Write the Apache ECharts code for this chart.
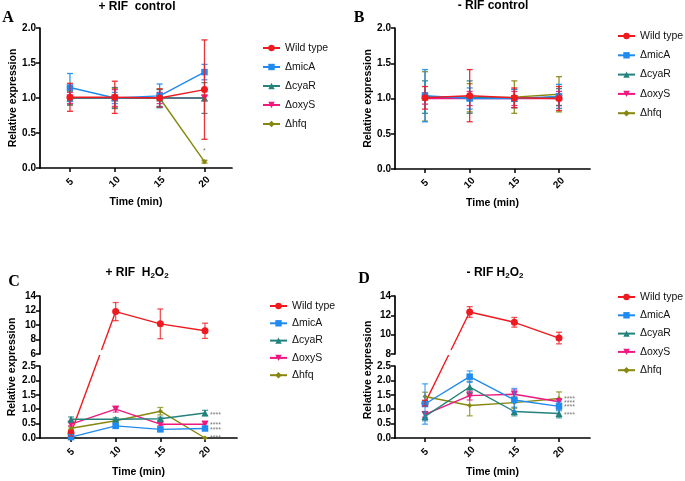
<!DOCTYPE html>
<html><head><meta charset="utf-8">
<script src="https://cdn.jsdelivr.net/npm/echarts@6/dist/echarts.min.js"></script>
<style>html,body{margin:0;padding:0;background:#fff}#c{width:685px;height:481px}</style>
</head><body><div id="c"></div>
<script>
const timePoints = [5, 10, 15, 20];
const seriesNames = ['Wild type', 'ΔmicA', 'ΔcyaR', 'ΔoxyS', 'Δhfq'];
const tickLabels = [5, 10, 15, 20];

// Panel A: + RIF control
const aWild = [1.01, 1.01, 1.00, 1.12];
const aWildErr = [0.20, 0.23, 0.13, 0.71];
const aMicA = [1.15, 1.00, 1.03, 1.37];
const aMicAErr = [0.20, 0.08, 0.17, 0.11];
const aCyaR = [1.00, 1.00, 1.00, 1.00];
const aCyaRErr = [0.10, 0.15, 0.12, 0.22];
const aOxyS = [1.00, 1.00, 1.00, 1.00];
const aOxySErr = [0.08, 0.12, 0.08, 0.04];
const aHfq = [1.00, 1.00, 1.00, 0.09];
const aHfqErr = [0.10, 0.14, 0.13, 0.02];
const aStars = [0.16];

// Panel B: - RIF control
const bWild = [1.01, 1.04, 1.01, 1.00];
const bWildErr = [0.16, 0.37, 0.14, 0.17];
const bMicA = [1.04, 1.00, 1.00, 1.03];
const bMicAErr = [0.37, 0.15, 0.13, 0.17];
const bCyaR = [1.02, 1.02, 1.00, 1.02];
const bCyaRErr = [0.23, 0.23, 0.13, 0.12];
const bOxyS = [1.00, 1.00, 1.00, 1.00];
const bOxySErr = [0.08, 0.10, 0.10, 0.10];
const bHfq = [1.03, 1.01, 1.02, 1.06];
const bHfqErr = [0.35, 0.20, 0.23, 0.25];

// Panel C: + RIF H2O2
const cWild = [0.17, 11.85, 10.16, 9.20];
const cWildErr = [0.10, 1.25, 2.05, 1.05];
const cMicA = [0.03, 0.42, 0.30, 0.33];
const cMicAErr = [0.03, 0.07, 0.06, 0.06];
const cCyaR = [0.65, 0.65, 0.67, 0.87];
const cCyaRErr = [0.08, 0.06, 0.05, 0.09];
const cOxyS = [0.48, 1.00, 0.48, 0.48];
const cOxySErr = [0.05, 0.10, 0.05, 0.10];
const cHfq = [0.34, 0.60, 0.93, 0.00];
const cHfqErr = [0.05, 0.05, 0.13, 0.02];
const cStars = [0.85, 0.52, 0.33, 0.06];

// Panel D: - RIF H2O2
const dWild = [1.21, 12.35, 11.28, 9.65];
const dWildErr = [0.10, 0.55, 0.50, 0.60];
const dMicA = [1.18, 2.13, 1.32, 1.10];
const dMicAErr = [0.70, 0.20, 0.40, 0.15];
const dCyaR = [0.75, 1.77, 0.92, 0.85];
const dCyaRErr = [0.15, 0.20, 0.15, 0.15];
const dOxyS = [0.82, 1.47, 1.52, 1.26];
const dOxySErr = [0.10, 0.15, 0.15, 0.10];
const dHfq = [1.44, 1.13, 1.23, 1.37];
const dHfqErr = [0.15, 0.36, 0.20, 0.23];
const dStars = [1.42, 1.28, 1.14, 0.85];

const colors = ['#ef1a1f', '#1f8bf0', '#24827d', '#ef1780', '#87870f'];
const symbols = ['circle', 'rect', 'triangle', 'triangle', 'diamond'];
const symRot = [0, 0, 0, 180, 0];
const symSize = [7, 6.5, 7, 7, 5];
const zOrder = [9, 8, 7, 6, 5];
const FONT = '"Liberation Sans", Arial, sans-serif';

const chart = echarts.init(document.getElementById('c'), null, {renderer: 'canvas'});

function lineSeries(k, vals, idx, gi, zAdj) {
  return {
    type: 'line', name: seriesNames[k], xAxisIndex: gi, yAxisIndex: gi,
    data: idx.map(i => [timePoints[i], vals[i]]),
    symbol: symbols[k], symbolRotate: symRot[k], symbolSize: symSize[k],
    itemStyle: {color: colors[k]}, lineStyle: {color: colors[k], width: 1.4},
    z: zAdj != null ? zAdj : zOrder[k], animation: false, silent: true
  };
}
function errSeries(k, vals, errs, idx, gi, op) {
  return {
    type: 'custom', name: seriesNames[k] + ' err', xAxisIndex: gi, yAxisIndex: gi,
    clip: true, z: zOrder[k], silent: true, animation: false,
    data: idx.map(i => [timePoints[i], vals[i] - errs[i], vals[i] + errs[i]]),
    encode: {x: 0, y: [1, 2]},
    renderItem: function (p, api) {
      const x = api.value(0);
      const lo = api.coord([x, api.value(1)]);
      const hi = api.coord([x, api.value(2)]);
      const hw = 3;
      const st = {stroke: colors[k], lineWidth: 1.3, opacity: op};
      return {type: 'group', children: [
        {type: 'line', shape: {x1: lo[0], y1: lo[1], x2: hi[0], y2: hi[1]}, style: st},
        {type: 'line', shape: {x1: lo[0] - hw, y1: lo[1], x2: lo[0] + hw, y2: lo[1]}, style: st},
        {type: 'line', shape: {x1: hi[0] - hw, y1: hi[1], x2: hi[0] + hw, y2: hi[1]}, style: st}
      ]};
    }
  };
}
function connector(vals, lowGi, upGi, upMin) {
  return {
    type: 'custom', coordinateSystem: 'none', silent: true, z: 4, animation: false,
    data: [[timePoints[0], vals[0], timePoints[1], vals[1]]],
    renderItem: function (p, api) {
      const p0 = chart.convertToPixel({xAxisIndex: lowGi, yAxisIndex: lowGi}, [api.value(0), api.value(1)]);
      const p1 = chart.convertToPixel({xAxisIndex: upGi, yAxisIndex: upGi}, [api.value(2), api.value(3)]);
      const yb = chart.convertToPixel({xAxisIndex: upGi, yAxisIndex: upGi}, [api.value(2), upMin])[1];
      const at = y => [p0[0] + (p1[0] - p0[0]) * (y - p0[1]) / (p1[1] - p0[1]), y];
      const a = at(yb + 1), b = at(yb - 4);
      const st = {stroke: colors[0], lineWidth: 1.4};
      return {type: 'group', children: [
        {type: 'line', shape: {x1: p0[0], y1: p0[1], x2: a[0], y2: a[1]}, style: st},
        {type: 'line', shape: {x1: b[0], y1: b[1], x2: p1[0], y2: p1[1]}, style: st}
      ]};
    }
  };
}
function starSeries(gi, vals, text, pos, offset) {
  return {
    type: 'scatter', xAxisIndex: gi, yAxisIndex: gi, symbolSize: 0, silent: true, z: 10, animation: false,
    data: vals.map(v => [timePoints[3], v]),
    label: {show: true, position: pos, distance: 5, offset: offset, formatter: text, fontSize: 7, color: '#555', fontFamily: FONT}
  };
}

const axisLineStyle = {show: true, lineStyle: {color: '#000', width: 1.7}};
const labelStyle = {color: '#000', fontWeight: 'bold', fontSize: 10, fontFamily: FONT};
const nameStyle = {color: '#000', fontWeight: 'bold', fontSize: 10.5, fontFamily: FONT};

function xAxis(gi, min, max, show, withName) {
  return {
    gridIndex: gi, type: 'value', min: min, max: max, show: show,
    axisLine: axisLineStyle,
    axisTick: {show: true, length: 4, customValues: tickLabels, lineStyle: {color: '#000', width: 1.5}},
    axisLabel: Object.assign({customValues: tickLabels, rotate: 45, margin: 14, align: 'center', verticalAlign: 'middle'}, labelStyle),
    splitLine: {show: false},
    name: withName ? 'Time (min)' : '', nameLocation: 'middle', nameGap: 29, nameTextStyle: nameStyle
  };
}
function yAxis(gi, min, max, interval, dec, withName) {
  return {
    gridIndex: gi, type: 'value', min: min, max: max, interval: interval,
    axisLine: axisLineStyle,
    axisTick: {show: true, length: 4, lineStyle: {color: '#000', width: 1.5}},
    axisLabel: Object.assign({margin: 4, formatter: v => v.toFixed(dec)}, labelStyle),
    splitLine: {show: false},
    name: withName ? 'Relative expression' : '', nameLocation: 'middle', nameGap: 21, nameTextStyle: nameStyle
  };
}

const series = [];
const all = [0, 1, 2, 3];
function simplePanel(vals, errs, gi) {
  for (let k = 0; k < 5; k++) {
    series.push(errSeries(k, vals[k], errs[k], all, gi, 0.9));
    series.push(lineSeries(k, vals[k], all, gi));
  }
}
function brokenPanel(vals, errs, upGi, lowGi, upMin) {
  for (let k = 1; k < 5; k++) {
    series.push(errSeries(k, vals[k], errs[k], all, lowGi, 0.75));
    series.push(lineSeries(k, vals[k], all, lowGi));
  }
  series.push(errSeries(0, vals[0], errs[0], [0], lowGi, 0.75));
  series.push(lineSeries(0, vals[0], [0], lowGi, 4));
  series.push(errSeries(0, vals[0], errs[0], [1, 2, 3], upGi, 0.75));
  series.push(lineSeries(0, vals[0], [1, 2, 3], upGi));
  series.push(connector(vals[0], lowGi, upGi, upMin));
}
simplePanel([aWild, aMicA, aCyaR, aOxyS, aHfq], [aWildErr, aMicAErr, aCyaRErr, aOxySErr, aHfqErr], 0);
simplePanel([bWild, bMicA, bCyaR, bOxyS, bHfq], [bWildErr, bMicAErr, bCyaRErr, bOxySErr, bHfqErr], 1);
brokenPanel([cWild, cMicA, cCyaR, cOxyS, cHfq], [cWildErr, cMicAErr, cCyaRErr, cOxySErr, cHfqErr], 2, 3, 6);
brokenPanel([dWild, dMicA, dCyaR, dOxyS, dHfq], [dWildErr, dMicAErr, dCyaRErr, dOxySErr, dHfqErr], 4, 5, 8);
series.push(starSeries(0, aStars, '*', 'top', [0, 3]));
series.push(starSeries(3, cStars, '****', 'right', [0, 2]));
series.push(starSeries(5, dStars, '****', 'right', [0, 2]));

function legend(left, top, gap) {
  return {
    data: seriesNames, orient: 'vertical', left: left, top: top, itemGap: gap, padding: 0,
    itemWidth: 17, itemHeight: 8, selectedMode: false,
    textStyle: {fontSize: 10.5, color: '#111', fontFamily: FONT}
  };
}

function txt(x, y, text, font, rot) {
  return {type: 'text', x: x, y: y, rotation: rot || 0, silent: true,
    style: {text: text, font: font, fill: '#000', align: 'center', verticalAlign: 'middle'}};
}
function richTitle(x, y, prefix) {
  return {type: 'text', x: x, y: y, silent: true,
    style: {text: '{a|' + prefix + 'H}{s|2}{a|O}{s|2}', fill: '#000', align: 'center', verticalAlign: 'middle',
      rich: {
        a: {fontSize: 12, fontWeight: 'bold', fontFamily: FONT, lineHeight: 14, fill: '#000'},
        s: {fontSize: 8, fontWeight: 'bold', fontFamily: FONT, lineHeight: 6, verticalAlign: 'bottom', fill: '#000'}
      }}};
}
const titleFont = 'bold 12px ' + FONT;
const letterFont = 'bold 16px "Liberation Serif", "Times New Roman", serif';

chart.setOption({
  backgroundColor: '#fff',
  animation: false,
  grid: [
    {left: 40, top: 28, width: 192, height: 140},
    {left: 395, top: 28, width: 195, height: 141},
    {left: 40, top: 296, width: 197, height: 58},
    {left: 40, top: 366, width: 197, height: 72},
    {left: 395, top: 296, width: 195, height: 58},
    {left: 395, top: 366, width: 195, height: 72}
  ],
  xAxis: [
    xAxis(0, 1.66, 23.07, true, true),
    xAxis(1, 1.64, 23.47, true, true),
    xAxis(2, 1.53, 23.58, false, false),
    xAxis(3, 1.53, 23.58, true, true),
    xAxis(4, 1.64, 23.47, false, false),
    xAxis(5, 1.64, 23.47, true, true)
  ],
  yAxis: [
    yAxis(0, 0, 2, 0.5, 1, true),
    yAxis(1, 0, 2, 0.5, 1, true),
    yAxis(2, 6, 14, 2, 0, false),
    yAxis(3, 0, 2.5, 0.5, 1, false),
    yAxis(4, 8, 14, 2, 0, false),
    yAxis(5, 0, 2.5, 0.5, 1, false)
  ],
  legend: [
    legend(262, 42.5, 8),
    legend(617, 30.5, 8.3),
    legend(269, 300.5, 6.3),
    legend(617, 291.5, 7.3)
  ],
  graphic: [
    txt(137, 7, '+ RIF  control', titleFont),
    txt(493, 6, '- RIF control', titleFont),
    richTitle(137, 273, '+ RIF  '),
    richTitle(495, 273, '- RIF '),
    txt(8, 18, 'A', letterFont),
    txt(359, 18, 'B', letterFont),
    txt(14, 282, 'C', letterFont),
    txt(364, 279, 'D', letterFont),
    txt(12, 367, 'Relative expression', 'bold 10.5px ' + FONT, Math.PI / 2),
    txt(368, 370, 'Relative expression', 'bold 10.5px ' + FONT, Math.PI / 2)
  ],
  series: series
});
</script>
</body></html>
